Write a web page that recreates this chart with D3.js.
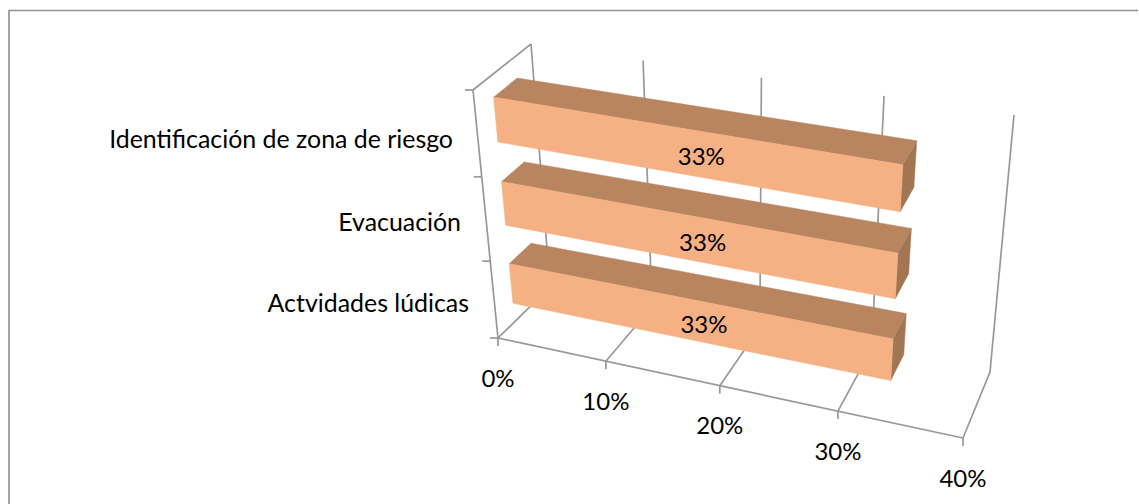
<!DOCTYPE html>
<html><head><meta charset="utf-8">
<script src="https://cdn.jsdelivr.net/npm/d3@7/dist/d3.min.js"></script>
<style>html,body{margin:0;padding:0;background:#fff}svg{display:block}text{font-family:Lato,"Open Sans",sans-serif;fill:#000}</style>
</head><body><svg id="c" width="1139" height="504"></svg>
<script>
const categories = ["Actvidades lúdicas", "Evacuación", "Identificación de zona de riesgo"];
const values = [0.3333, 0.3333, 0.3333];
const axisTicks = [0, 0.1, 0.2, 0.3, 0.4];

const svg = d3.select("#c");
const GRID = "#989898", FRONT = "#F5B183", TOP = "#B98560", SIDE = "#A27653";

// Chart frame: only the top and left edges fall inside the picture
svg.append("path").attr("d", "M9,504V10.5H1138").attr("fill", "none").attr("stroke", "#909090").attr("stroke-width", 1.6);

// Perspective: u across the value axis, d into the chart, h upward
const uScale = d3.scaleLinear().domain(axisTicks).range([0, .232, .477, .731, 1]);
const hWarp = d3.scaleLinear().domain([0, 1/3, 2/3, 5/6, 1]).range([0, .31, .65, .815, 1]);
const band = d3.scaleBand().domain(categories).range([0, 1]).paddingInner(.48).paddingOuter(.24);
const DEPTH = [.32, .73];
const corners = {
  ff0: [498, 338], ff1: [963, 438], fb0: [550, 287], fb1: [990, 372],
  tf0: [473, 90], tf1: [985, 176], tb0: [531, 44], tb1: [1014, 115]
};
const mix = (a, b, t) => [a[0] + (b[0] - a[0]) * t, a[1] + (b[1] - a[1]) * t];
function P(v, d, h) {
  const u = uScale(v);
  const floor = mix(mix(corners.ff0, corners.ff1, u), mix(corners.fb0, corners.fb1, u), d);
  const top = mix(mix(corners.tf0, corners.tf1, u), mix(corners.tb0, corners.tb1, u), d);
  return mix(floor, top, h);
}
const line = d3.line();
const g = svg.append("g");
const stroke = pts => g.append("path").attr("d", line(pts)).attr("fill", "none").attr("stroke", GRID).attr("stroke-width", 1.7);

// Back wall gridlines, floor gridlines, outer edges
axisTicks.forEach(v => {
  stroke([P(v, 0, 0), P(v, 1, 0), P(v, 1, 1)]);
  const p = P(v, 0, 0);
  stroke([p, [p[0], p[1] + 8]]);
});
stroke([P(0, 0, 0), P(.4, 0, 0)]);
stroke([P(0, 0, 0), P(0, 0, 1), P(0, 1, 1)]);
// Category ticks
[0, 1/3, 2/3, 1].forEach(t => {
  const p = P(0, 0, hWarp(t));
  stroke([[p[0] - 8, p[1]], p]);
});

// Bars
const bars = svg.append("g").selectAll("g").data(categories.map((c, i) => ({c, v: values[i]})).reverse()).join("g");
bars.each(function (r) {
  const b = d3.select(this);
  const h0 = hWarp(band(r.c)), h1 = hWarp(band(r.c) + band.bandwidth());
  const [d0, d1] = DEPTH;
  const face = (pts, fill) => b.append("path").attr("d", line(pts) + "Z").attr("fill", fill).attr("stroke", fill).attr("stroke-width", .5);
  face([P(r.v, d0, h0), P(r.v, d1, h0), P(r.v, d1, h1), P(r.v, d0, h1)], SIDE);
  face([P(0, d0, h1), P(r.v, d0, h1), P(r.v, d1, h1), P(0, d1, h1)], TOP);
  face([P(0, d0, h0), P(r.v, d0, h0), P(r.v, d0, h1), P(0, d0, h1)], FRONT);
  const a = P(r.v * .525, d0, (h0 + h1) / 2);
  b.append("text").attr("x", a[0]).attr("y", a[1] + 1).attr("text-anchor", "middle").attr("dominant-baseline", "central").attr("font-size", 24).text(d3.format(".0%")(r.v));
});

// Category labels
const labelOffset = {"Actvidades lúdicas": 29, "Evacuación": 37, "Identificación de zona de riesgo": 45};
categories.forEach(c => {
  const p = P(0, 0, hWarp(band(c) + band.bandwidth() / 2));
  svg.append("text").attr("x", 498 - labelOffset[c]).attr("y", p[1] + 2).attr("text-anchor", "end").attr("dominant-baseline", "central").attr("font-size", 24.9).text(c);
});
// Axis labels
axisTicks.forEach(v => {
  const p = P(v, 0, 0);
  svg.append("text").attr("x", p[0]).attr("y", p[1] + 39).attr("text-anchor", "middle").attr("dominant-baseline", "central").attr("font-size", 24).text(d3.format(".0%")(v));
});
</script></body></html>
